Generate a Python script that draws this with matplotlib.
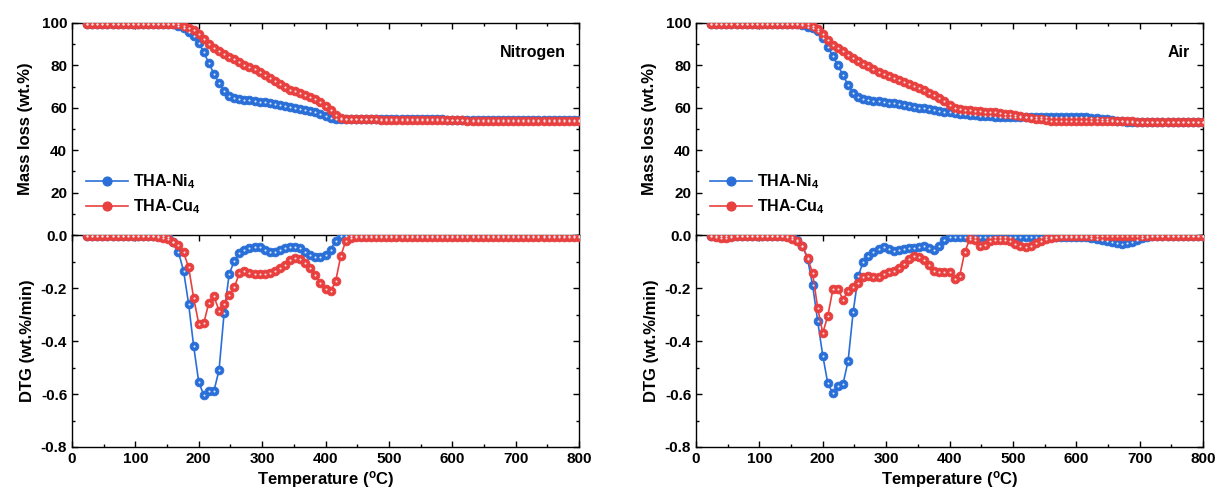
import numpy as np
import matplotlib
matplotlib.use("Agg")
import matplotlib.pyplot as plt
from matplotlib.ticker import MultipleLocator
from matplotlib.lines import Line2D

plt.rcParams['font.family'] = ['Liberation Sans', 'DejaVu Sans']
plt.rcParams['font.weight'] = 'bold'
plt.rcParams['mathtext.fontset'] = 'custom'
plt.rcParams['mathtext.rm'] = 'Liberation Sans:bold'
plt.rcParams['mathtext.bf'] = 'Liberation Sans:bold'
plt.rcParams['mathtext.default'] = 'bf'

# temperature grid (C), one point every 8 degrees
temp = np.arange(24, 801, 8)

# ---- Nitrogen ----
tga_ni_n2 = [99.6, 99.6, 99.6, 99.6, 99.6, 99.6, 99.6, 99.6, 99.6, 99.6,
             99.6, 99.6, 99.6, 99.6, 99.6, 99.6, 99.6, 99.3, 98.7, 97.5,
             95.8, 93.7, 90.6, 86.2, 81.0, 76.0, 71.7, 68.0, 65.8, 64.8,
             64.2, 63.8, 63.5, 63.2, 62.9, 62.6, 62.2, 61.8, 61.3, 60.8,
             60.4, 60.0, 59.6, 59.1, 58.5, 57.8, 57.0, 56.2, 55.4, 54.8,
             54.6, 54.6, 54.6, 54.6, 54.6, 54.6, 54.6, 54.6, 54.6, 54.6,
             54.6, 54.5, 54.5, 54.5, 54.5, 54.5, 54.5, 54.5, 54.5, 54.5,
             54.5, 54.4, 54.4, 54.4, 54.4, 54.4, 54.4, 54.4, 54.4, 54.4,
             54.4, 54.3, 54.3, 54.3, 54.3, 54.3, 54.3, 54.3, 54.3, 54.3,
             54.3, 54.2, 54.2, 54.2, 54.2, 54.2, 54.2, 54.2]
tga_cu_n2 = [99.6, 99.6, 99.6, 99.6, 99.6, 99.6, 99.6, 99.6, 99.6, 99.6,
             99.6, 99.6, 99.6, 99.6, 99.6, 99.6, 99.6, 99.6, 99.3, 98.8,
             97.8, 96.6, 95.0, 92.5, 90.2, 88.4, 86.8, 85.4, 84.1, 82.8,
             81.5, 80.2, 79.1, 78.1, 77.1, 75.7, 74.2, 72.7, 71.2, 69.7,
             68.6, 67.7, 67.0, 66.2, 65.3, 64.1, 62.6, 60.8, 58.8, 56.8,
             55.3, 54.8, 54.7, 54.7, 54.6, 54.6, 54.5, 54.5, 54.4, 54.4,
             54.3, 54.3, 54.3, 54.3, 54.3, 54.2, 54.2, 54.2, 54.2, 54.2,
             54.1, 54.1, 54.1, 54.1, 54.1, 54.0, 54.0, 54.0, 54.0, 54.0,
             53.9, 53.9, 53.9, 53.9, 53.9, 53.8, 53.8, 53.8, 53.8, 53.8,
             53.7, 53.7, 53.7, 53.7, 53.6, 53.6, 53.6, 53.6]
dtg_ni_n2 = [-0.003, -0.003, -0.003, -0.003, -0.003, -0.003, -0.003, -0.003, -0.003, -0.003,
             -0.003, -0.003, -0.003, -0.003, -0.003, -0.003, -0.008, -0.025, -0.065, -0.135,
             -0.26, -0.42, -0.555, -0.605, -0.59, -0.588, -0.51, -0.295, -0.148, -0.098,
             -0.068, -0.056, -0.048, -0.044, -0.045, -0.055, -0.066, -0.066, -0.056, -0.048,
             -0.044, -0.045, -0.05, -0.063, -0.077, -0.084, -0.083, -0.075, -0.055, -0.022,
             -0.004, -0.003, -0.003, -0.003, -0.003, -0.003, -0.003, -0.003, -0.003, -0.003,
             -0.003, -0.003, -0.003, -0.003, -0.003, -0.003, -0.003, -0.003, -0.003, -0.003,
             -0.003, -0.003, -0.003, -0.003, -0.003, -0.003, -0.003, -0.003, -0.003, -0.003,
             -0.003, -0.003, -0.003, -0.003, -0.003, -0.003, -0.003, -0.003, -0.003, -0.003,
             -0.003, -0.003, -0.003, -0.003, -0.003, -0.003, -0.003, -0.003]
dtg_cu_n2 = [-0.004, -0.004, -0.004, -0.004, -0.004, -0.004, -0.004, -0.004, -0.004, -0.004,
             -0.004, -0.004, -0.004, -0.004, -0.006, -0.01, -0.016, -0.027, -0.036, -0.065,
             -0.122, -0.238, -0.335, -0.332, -0.255, -0.232, -0.285, -0.262, -0.225, -0.198,
             -0.145, -0.137, -0.145, -0.149, -0.149, -0.147, -0.142, -0.135, -0.126, -0.114,
             -0.096, -0.087, -0.09, -0.104, -0.125, -0.15, -0.18, -0.205, -0.213, -0.175,
             -0.08, -0.022, -0.01, -0.006, -0.006, -0.006, -0.006, -0.006, -0.006, -0.006,
             -0.006, -0.006, -0.006, -0.006, -0.006, -0.006, -0.006, -0.006, -0.006, -0.006,
             -0.006, -0.006, -0.006, -0.006, -0.006, -0.006, -0.006, -0.006, -0.006, -0.006,
             -0.006, -0.006, -0.006, -0.006, -0.006, -0.006, -0.006, -0.006, -0.006, -0.006,
             -0.006, -0.006, -0.006, -0.006, -0.006, -0.006, -0.006, -0.006]

# ---- Air ----
tga_ni_air = [99.6, 99.6, 99.6, 99.6, 99.6, 99.6, 99.6, 99.6, 99.6, 99.6,
              99.6, 99.6, 99.6, 99.6, 99.6, 99.6, 99.6, 99.4, 99.0, 98.3,
              97.5, 96.0, 93.0, 88.7, 84.3, 80.0, 75.3, 70.8, 67.2, 65.3,
              64.3, 63.7, 63.3, 63.0, 62.8, 62.5, 62.1, 61.7, 61.3, 60.9,
              60.5, 60.1, 59.7, 59.3, 58.9, 58.5, 58.2, 57.9, 57.6, 57.3,
              57.0, 56.8, 56.5, 56.3, 56.1, 55.9, 55.8, 55.7, 55.6, 55.6,
              55.6, 55.6, 55.6, 55.7, 55.7, 55.7, 55.8, 55.8, 55.8, 55.8,
              55.8, 55.8, 55.8, 55.7, 55.6, 55.4, 55.2, 54.9, 54.6, 54.3,
              54.0, 53.7, 53.5, 53.4, 53.4, 53.4, 53.3, 53.3, 53.3, 53.3,
              53.3, 53.3, 53.3, 53.3, 53.2, 53.2, 53.2, 53.2]
tga_cu_air = [99.6, 99.6, 99.6, 99.6, 99.6, 99.6, 99.6, 99.6, 99.6, 99.6,
              99.6, 99.6, 99.6, 99.6, 99.6, 99.6, 99.6, 99.6, 99.6, 99.4,
              98.8, 97.2, 94.6, 92.0, 89.8, 88.2, 86.6, 85.0, 83.6, 82.2,
              80.8, 79.5, 78.3, 77.1, 76.0, 75.0, 74.0, 73.0, 72.0, 71.0,
              70.1, 69.2, 68.3, 67.2, 66.0, 64.6, 63.0, 61.4, 60.0, 59.3,
              59.0, 58.8, 58.6, 58.4, 58.2, 58.0, 57.8, 57.6, 57.3, 57.0,
              56.6, 56.2, 55.7, 55.2, 54.8, 54.5, 54.2, 54.0, 53.9, 53.8,
              53.8, 53.8, 53.8, 53.7, 53.7, 53.7, 53.7, 53.7, 53.6, 53.6,
              53.6, 53.6, 53.6, 53.6, 53.5, 53.5, 53.5, 53.5, 53.5, 53.5,
              53.5, 53.4, 53.4, 53.4, 53.4, 53.4, 53.4, 53.4]
dtg_ni_air = [-0.003, -0.003, -0.003, -0.003, -0.003, -0.003, -0.003, -0.003, -0.003, -0.003,
              -0.003, -0.003, -0.003, -0.003, -0.003, -0.003, -0.008, -0.018, -0.04, -0.09,
              -0.19, -0.325, -0.455, -0.56, -0.598, -0.568, -0.562, -0.475, -0.29, -0.155,
              -0.1, -0.08, -0.065, -0.052, -0.046, -0.051, -0.06, -0.058, -0.052, -0.048,
              -0.048, -0.046, -0.043, -0.05, -0.058, -0.04, -0.018, -0.008, -0.006, -0.006,
              -0.006, -0.006, -0.006, -0.006, -0.006, -0.006, -0.006, -0.006, -0.006, -0.006,
              -0.006, -0.006, -0.006, -0.006, -0.006, -0.006, -0.006, -0.006, -0.006, -0.006,
              -0.006, -0.006, -0.006, -0.007, -0.008, -0.01, -0.014, -0.019, -0.024, -0.028,
              -0.031, -0.033, -0.032, -0.028, -0.02, -0.011, -0.006, -0.004, -0.003, -0.003,
              -0.003, -0.003, -0.003, -0.003, -0.003, -0.003, -0.003, -0.003]
dtg_cu_air = [-0.003, -0.006, -0.01, -0.01, -0.007, -0.005, -0.005, -0.005, -0.005, -0.005,
              -0.005, -0.005, -0.005, -0.005, -0.005, -0.008, -0.014, -0.024, -0.042, -0.085,
              -0.145, -0.275, -0.37, -0.305, -0.205, -0.202, -0.245, -0.21, -0.195, -0.183,
              -0.16, -0.155, -0.16, -0.158, -0.147, -0.14, -0.135, -0.125, -0.11, -0.092,
              -0.081, -0.083, -0.095, -0.115, -0.135, -0.14, -0.139, -0.14, -0.165, -0.155,
              -0.065, -0.015, -0.018, -0.04, -0.037, -0.024, -0.018, -0.017, -0.018, -0.022,
              -0.033, -0.042, -0.045, -0.04, -0.032, -0.022, -0.015, -0.01, -0.007, -0.005,
              -0.005, -0.005, -0.005, -0.005, -0.005, -0.005, -0.005, -0.005, -0.005, -0.005,
              -0.005, -0.005, -0.005, -0.005, -0.005, -0.005, -0.005, -0.005, -0.005, -0.005,
              -0.005, -0.005, -0.005, -0.005, -0.005, -0.005, -0.005, -0.005]

labels = [r'THA-Ni$_4$', r'THA-Cu$_4$']
blue = '#2a6fd8'
red = '#e8403f'
blue_hi = '#d6e6fb'
red_hi = '#fbdedc'


def draw(ax, y, c, hi):
    ax.plot(temp, y, '-', color=c, lw=1.2, marker='o', ms=6.3,
            mfc=c, mec=c, mew=0.6, zorder=3)
    # small highlight on each ball
    ax.plot(temp, y, ls='none', marker='o', ms=1.5, mfc=hi, mec='none', zorder=4)


def style(ax):
    ax.set_xlim(0, 800)
    ax.xaxis.set_major_locator(MultipleLocator(100))
    ax.xaxis.set_minor_locator(MultipleLocator(50))
    ax.tick_params(which='both', direction='in', top=True, right=True,
                   labelsize=11, width=1.0)
    ax.tick_params(which='major', length=4.5)
    ax.tick_params(which='minor', length=2.5)
    for s in ax.spines.values():
        s.set_linewidth(1.0)


fig = plt.figure(figsize=(12.16, 4.95), dpi=100)

panels = [
    (72, 'Nitrogen', tga_ni_n2, tga_cu_n2, dtg_ni_n2, dtg_cu_n2),
    (696, 'Air', tga_ni_air, tga_cu_air, dtg_ni_air, dtg_cu_air),
]

W, H = 1216.0, 495.0
for x0, name, t_ni, t_cu, d_ni, d_cu in panels:
    w = 507 / W
    ax_t = fig.add_axes([x0 / W, 1 - 235 / H, w, 212 / H])
    ax_b = fig.add_axes([x0 / W, 1 - 447 / H, w, 212 / H])

    draw(ax_t, t_ni, blue, blue_hi)
    draw(ax_t, t_cu, red, red_hi)
    draw(ax_b, d_ni, blue, blue_hi)
    draw(ax_b, d_cu, red, red_hi)

    style(ax_t)
    style(ax_b)

    ax_t.set_ylim(0, 100)
    ax_t.set_yticks([20, 40, 60, 80, 100])
    ax_t.yaxis.set_minor_locator(MultipleLocator(10))
    ax_t.tick_params(axis='x', which='both', bottom=False, labelbottom=False)
    ax_t.spines['bottom'].set_visible(False)

    ax_b.set_ylim(-0.8, 0.0)
    ax_b.yaxis.set_minor_locator(MultipleLocator(0.1))
    ax_b.set_yticks([0.0, -0.2, -0.4, -0.6, -0.8])
    ax_b.set_yticklabels(['0.0', '-0.2', '-0.4', '-0.6', '-0.8'])

    ax_t.set_ylabel('Mass loss (wt.%)', fontsize=12, fontweight='bold', labelpad=6)
    ax_b.set_ylabel('DTG (wt.%/min)', fontsize=12, fontweight='bold', labelpad=4)
    ax_b.set_xlabel(r'Temperature ($^o$C)', fontsize=12, fontweight='bold', labelpad=2)

    ax_t.text(0.975, 0.86, name, transform=ax_t.transAxes, ha='right',
              va='center', fontsize=11.5, fontweight='bold')

    handles = [Line2D([], [], color=blue, lw=1.2, marker='o', ms=6.3, mfc=blue, mec=blue),
               Line2D([], [], color=red, lw=1.2, marker='o', ms=6.3, mfc=red, mec=red)]
    ax_t.legend(handles, labels, loc='lower left', bbox_to_anchor=(0.0, 0.02),
                frameon=False, fontsize=11.5, handlelength=2.6, handletextpad=0.3,
                labelspacing=0.4, borderaxespad=0.5)

fig.savefig('out.png', dpi=100)
